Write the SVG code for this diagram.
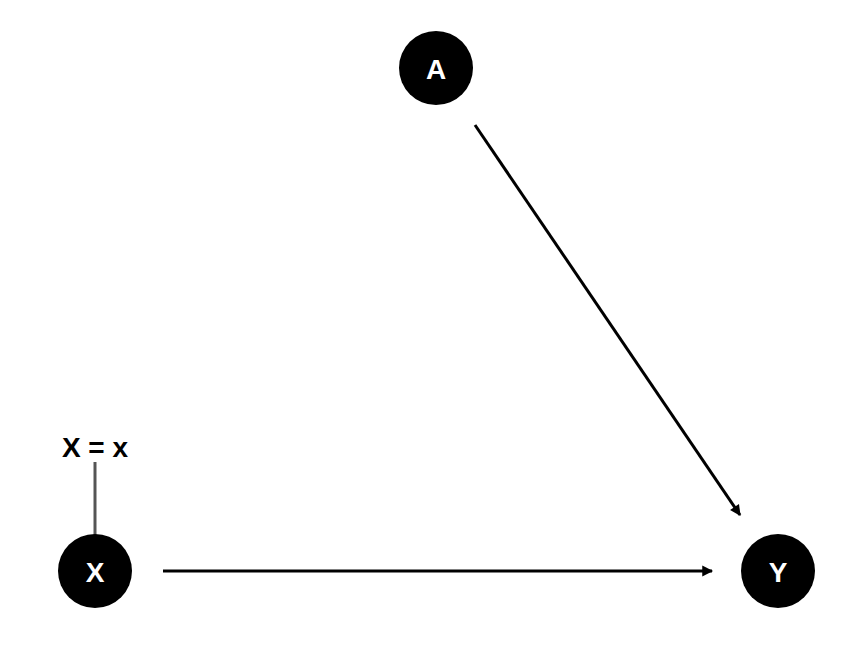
<svg xmlns="http://www.w3.org/2000/svg" width="864" height="648" viewBox="0 0 864 648">
<style>
.n{fill:#000}
.t{fill:#fff;font-family:"Liberation Sans",Arial,sans-serif;font-weight:bold;font-size:28px;text-anchor:middle;dominant-baseline:central}
.e{stroke:#000;stroke-width:3;fill:none;marker-end:url(#ah)}
</style>
<defs><marker id="ah" viewBox="0 0 10 10" refX="9" refY="5" markerWidth="6" markerHeight="6" orient="auto" markerUnits="userSpaceOnUse" style="overflow:visible"><path d="M0,0 L10,5 L0,10 z" fill="#000" transform="scale(1.8) translate(-4,-2.2)"/></marker></defs>
<rect width="864" height="648" fill="#fff"/>
<g id="connectors">
<path class="e" d="M475,125 L740,515"/>
<path class="e" d="M163,571 L712,571"/>
<line x1="95" y1="462" x2="95" y2="538" stroke="#555" stroke-width="3"/>
</g>
<g id="A"><circle class="n" cx="436" cy="68" r="37"/><text class="t" x="436" y="69">A</text></g>
<g id="X"><circle class="n" cx="95" cy="571" r="37"/><text class="t" x="95" y="572">X</text></g>
<g id="Y"><circle class="n" cx="778" cy="571" r="37"/><text class="t" x="778" y="572">Y</text></g>
<text x="95" y="447" style="font-family:'Liberation Sans',Arial,sans-serif;font-weight:bold;font-size:28px;text-anchor:middle;dominant-baseline:central">X = x</text>
</svg>
